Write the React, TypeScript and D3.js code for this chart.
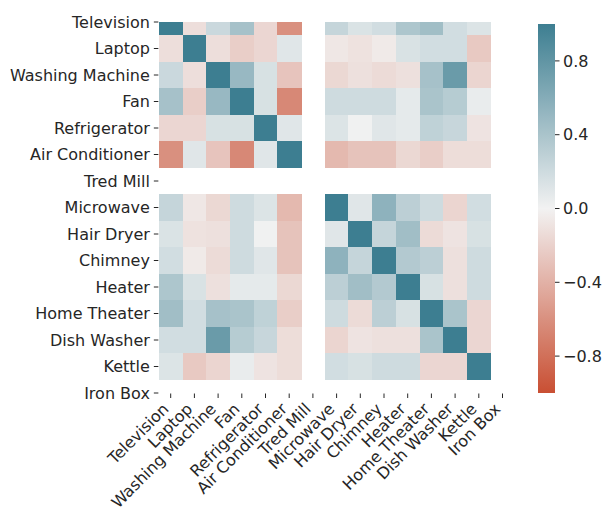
import { useRef, useEffect } from "react";
import { select, scaleBand, scaleLinear, interpolateRgb, range } from "d3";

// Appliances (rows and columns)
const appliances = [
  "Television",
  "Laptop",
  "Washing Machine",
  "Fan",
  "Refrigerator",
  "Air Conditioner",
  "Tred Mill",
  "Microwave",
  "Hair Dryer",
  "Chimney",
  "Heater",
  "Home Theater",
  "Dish Washer",
  "Kettle",
  "Iron Box",
];

// Correlation rows (null = NaN)
const television = [1, -0.12, 0.22, 0.42, -0.17, -0.6, null, 0.25, 0.13, 0.18, 0.38, 0.45, 0.18, 0.12, null];
const laptop = [-0.12, 1, -0.12, -0.22, -0.17, 0.1, null, -0.07, -0.1, -0.05, 0.14, 0.18, 0.18, -0.25, null];
const washingMachine = [0.22, -0.12, 1, 0.5, 0.15, -0.28, null, -0.16, -0.11, -0.14, -0.11, 0.42, 0.75, -0.18, null];
const fan = [0.42, -0.22, 0.5, 1, 0.15, -0.65, null, 0.2, 0.2, 0.2, 0.07, 0.4, 0.33, 0.05, null];
const refrigerator = [-0.17, -0.17, 0.15, 0.15, 1, 0.1, null, 0.12, 0.01, 0.1, 0.07, 0.28, 0.24, -0.09, null];
const airConditioner = [-0.6, 0.1, -0.28, -0.65, 0.1, 1, null, -0.35, -0.29, -0.29, -0.16, -0.22, -0.13, -0.13, null];
const tredMill = [null, null, null, null, null, null, null, null, null, null, null, null, null, null, null];
const microwave = [0.25, -0.07, -0.16, 0.2, 0.12, -0.35, null, 1, 0.1, 0.55, 0.3, 0.2, -0.18, 0.18, null];
const hairDryer = [0.13, -0.1, -0.11, 0.2, 0.01, -0.29, null, 0.1, 1, 0.25, 0.45, -0.14, -0.09, 0.15, null];
const chimney = [0.18, -0.05, -0.14, 0.2, 0.1, -0.29, null, 0.55, 0.25, 1, 0.35, 0.3, -0.11, 0.2, null];
const heater = [0.38, 0.14, -0.11, 0.07, 0.07, -0.16, null, 0.3, 0.45, 0.35, 1, 0.15, -0.11, 0.2, null];
const homeTheater = [0.45, 0.18, 0.42, 0.4, 0.28, -0.22, null, 0.2, -0.14, 0.3, 0.15, 1, 0.4, -0.17, null];
const dishWasher = [0.18, 0.18, 0.75, 0.33, 0.24, -0.13, null, -0.18, -0.09, -0.11, -0.11, 0.4, 1, -0.17, null];
const kettle = [0.12, -0.25, -0.18, 0.05, -0.09, -0.13, null, 0.18, 0.15, 0.2, 0.2, -0.17, -0.17, 1, null];
const ironBox = [null, null, null, null, null, null, null, null, null, null, null, null, null, null, null];

// Colorbar ticks
const barTicks = [0.8, 0.4, 0.0, -0.4, -0.8];

const matrix = [
  television, laptop, washingMachine, fan, refrigerator, airConditioner, tredMill,
  microwave, hairDryer, chimney, heater, homeTheater, dishWasher, kettle, ironBox,
];

const FONT = "DejaVu Sans, sans-serif";
const FONT_SIZE = 16;

export default function App() {
  const svgRef = useRef<SVGSVGElement | null>(null);

  useEffect(() => {
    const svg = select(svgRef.current);
    svg.selectAll("*").remove();

    // Layout (top/bottom rows cut in half, like the reference)
    const left = 158.85;
    const right = 514.35;
    const top = 22;
    const bottom = 393;
    const rowH = (bottom - top) / 14;

    const x = scaleBand<string>().domain(appliances).range([left, right]);
    const y = scaleBand<string>()
      .domain(appliances)
      .range([top - rowH / 2, bottom + rowH / 2]);

    const color = scaleLinear<string>()
      .domain([-1, 0, 1])
      .range(["#c94f33", "#f2f2f2", "#3d7e91"])
      .interpolate(interpolateRgb)
      .clamp(true);

    const defs = svg.append("defs");
    defs
      .append("clipPath")
      .attr("id", "plot-clip")
      .append("rect")
      .attr("x", left)
      .attr("y", top)
      .attr("width", right - left)
      .attr("height", bottom - top);

    // Cells
    const cells = matrix.flatMap((row, i) =>
      row.map((v, j) => ({ r: appliances[i], c: appliances[j], v }))
    );
    svg
      .append("g")
      .attr("clip-path", "url(#plot-clip)")
      .selectAll("rect")
      .data(cells.filter((d) => d.v !== null))
      .join("rect")
      .attr("x", (d) => x(d.c)!)
      .attr("y", (d) => y(d.r)!)
      .attr("width", x.bandwidth() + 0.5)
      .attr("height", y.bandwidth() + 0.5)
      .attr("fill", (d) => color(d.v as number))
      .attr("shape-rendering", "crispEdges");

    // Y axis
    const yAxis = svg.append("g");
    appliances.forEach((name) => {
      const cy = y(name)! + y.bandwidth() / 2;
      yAxis
        .append("line")
        .attr("x1", left - 5)
        .attr("x2", left - 0.5)
        .attr("y1", cy)
        .attr("y2", cy)
        .attr("stroke", "#262626")
        .attr("stroke-width", 1);
      yAxis
        .append("text")
        .attr("x", left - 9)
        .attr("y", cy)
        .attr("dy", "0.35em")
        .attr("text-anchor", "end")
        .attr("font-family", FONT)
        .attr("font-size", FONT_SIZE)
        .attr("fill", "#262626")
        .text(name);
    });

    // X axis
    const xAxis = svg.append("g");
    appliances.forEach((name) => {
      const cx = x(name)! + x.bandwidth() / 2;
      xAxis
        .append("line")
        .attr("x1", cx)
        .attr("x2", cx)
        .attr("y1", bottom + 0.5)
        .attr("y2", bottom + 5)
        .attr("stroke", "#262626")
        .attr("stroke-width", 1);
      xAxis
        .append("text")
        .attr("transform", `translate(${cx - 5},${bottom + 13}) rotate(-45)`)
        .attr("dy", "0.35em")
        .attr("text-anchor", "end")
        .attr("font-family", FONT)
        .attr("font-size", FONT_SIZE)
        .attr("fill", "#262626")
        .text(name);
    });

    // Colorbar
    const barX = 538;
    const barW = 17;
    const barY = scaleLinear().domain([1, -1]).range([24, 393]);
    const grad = defs
      .append("linearGradient")
      .attr("id", "cbar")
      .attr("x1", 0)
      .attr("x2", 0)
      .attr("y1", 0)
      .attr("y2", 1);
    range(0, 21).forEach((k) => {
      const v = 1 - k / 10;
      grad
        .append("stop")
        .attr("offset", `${k * 5}%`)
        .attr("stop-color", color(v));
    });
    svg
      .append("rect")
      .attr("x", barX)
      .attr("y", barY(1))
      .attr("width", barW)
      .attr("height", barY(-1) - barY(1))
      .attr("fill", "url(#cbar)");

    const cbAxis = svg.append("g");
    barTicks.forEach((t) => {
      const ty = barY(t);
      cbAxis
        .append("line")
        .attr("x1", barX + barW)
        .attr("x2", barX + barW + 4.5)
        .attr("y1", ty)
        .attr("y2", ty)
        .attr("stroke", "#262626");
      cbAxis
        .append("text")
        .attr("x", barX + barW + 8)
        .attr("y", ty)
        .attr("dy", "0.35em")
        .attr("font-family", FONT)
        .attr("font-size", FONT_SIZE)
        .attr("fill", "#262626")
        .text(t < 0 ? `\u2212${Math.abs(t).toFixed(1)}` : t.toFixed(1));
    });
  }, []);

  return (
    <svg
      ref={svgRef}
      width={605}
      height={519}
      style={{ position: "absolute", left: 0, top: 0, background: "#fff" }}
    />
  );
}
